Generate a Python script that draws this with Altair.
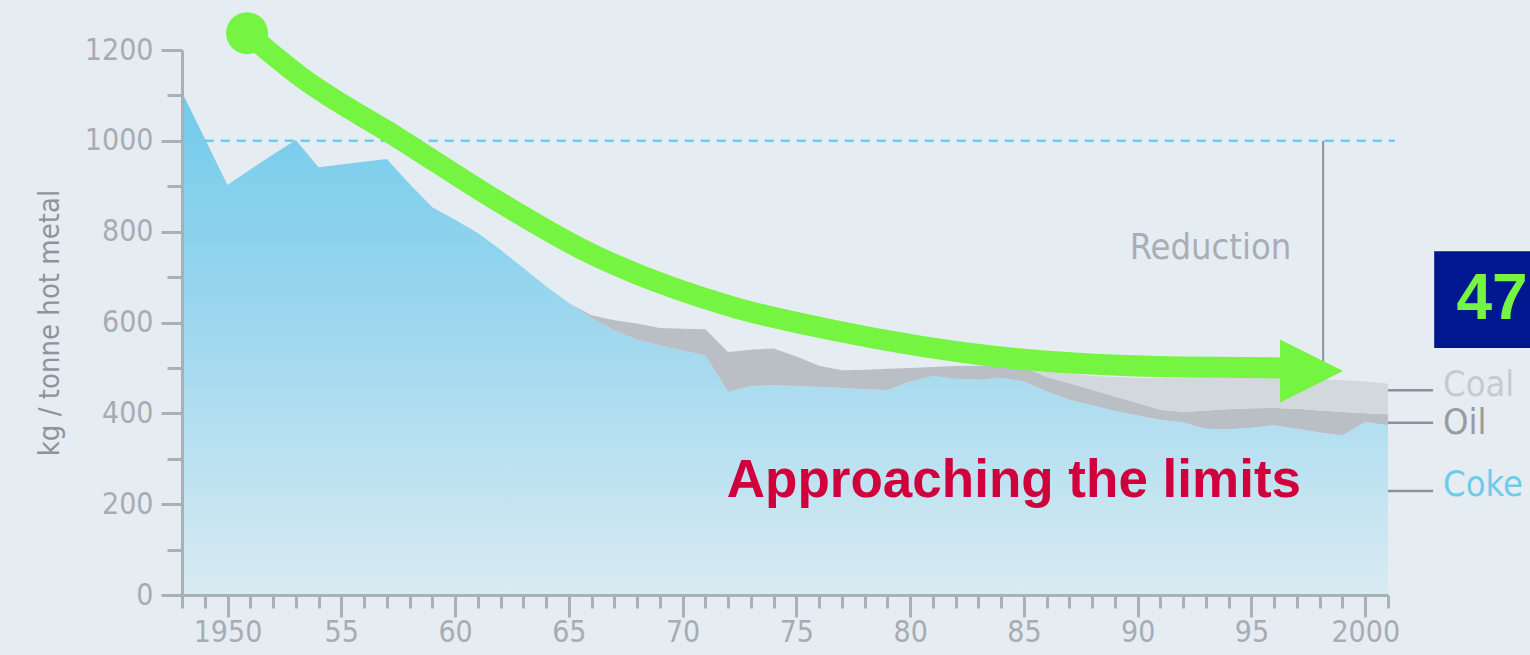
import altair as alt
import pandas as pd

# ---------------- data ----------------
years = list(range(1948, 2002))
coke = [1107, 1005, 903, 937, 970, 1002, 942, 948, 954, 960, 905, 854, 826, 797, 760, 720, 680, 643,
        610, 582, 562, 550, 538, 528, 447, 460, 462, 460, 458, 456, 453, 451, 470, 482, 476, 474, 478, 470,
        448, 430, 418, 405, 395, 386, 380, 366, 365, 368, 374, 366, 358, 352, 381, 374]
oil = [0] * 18 + [6, 23, 36, 38, 48, 57, 88, 80, 81, 65, 47, 39, 43, 47, 30, 20, 28, 31, 28, 32,
                  32, 36, 34, 32, 28, 22, 23, 40, 44, 43, 38, 44, 48, 51, 19, 24]
coal = [0] * 37 + [2, 15, 22, 30, 43, 55, 70, 75, 72, 69, 67, 66, 68, 69, 70, 70, 67]

x_major = [1950, 1955, 1960, 1965, 1970, 1975, 1980, 1985, 1990, 1995, 2000]
x_minor = [y for y in range(1948, 2002) if y not in x_major]
y_major = [0, 200, 400, 600, 800, 1000, 1200]
y_minor = [100, 300, 500, 700, 900, 1100]

# annotation values (data coordinates)
ref_level = [1000]
ref_span = [1949, 2001.3]
reduction_year = [1998.15]
reduction_span = [1000, 473]
reduction_label = ["Reduction"]
reduction_pos = [1993.2, 764]

arrow_years = [1950.86, 1953.19, 1957.58, 1961.98, 1965.63, 1972.22, 1976.62, 1983.96, 1991.87, 1996.26]
arrow_vals = [1237, 1142, 1004, 864, 760, 634, 583, 524, 502, 500]
arrow_head = [1997.64, 493]

series_names = ["Coal", "Oil", "Coke"]
series_text_y = [462, 379, 242]
series_line_y = [451, 379, 229]
series_colors = ["#c5cacf", "#979ca3", "#6fcbeb"]
label_x = 2003.42
connector_x = [2001, 2002.98]

headline = ["Approaching the limits"]
headline_pos = [1984.56, 216]
badge_text = ["47"]
badge_x = [2003.03, 2007.6]
badge_y = [544, 757]
badge_text_pos = [2005.57, 650]

FONT = "DejaVu Sans Condensed, Liberation Sans Narrow, sans-serif"
AXIS_GRAY = "#abb0b6"
LABEL_GRAY = "#a7acb2"

# ---------------- chart ----------------
df = pd.DataFrame({"year": years, "coke": coke, "oil": oil, "coal": coal})

xscale = alt.Scale(domain=[1948, 2001], nice=False, zero=False)
yscale = alt.Scale(domain=[0, 1200], nice=False)

xaxis = alt.Axis(
    values=x_major,
    tickCount=200,
    labelExpr="datum.value % 50 === 0 ? toString(datum.value) : substring(toString(datum.value), 2)",
    tickSize=22,
    labelPadding=0,
    title=None,
    grid=False,
    labelFlush=False,
    labelOverlap=False,
    orient="bottom",
    zindex=1,
)
yaxis = alt.Axis(
    values=y_major,
    tickCount=200,
    format="d",
    tickSize=21,
    labelPadding=8,
    title="kg / tonne hot metal",
    titleFontSize=29,
    titleFont=FONT,
    titleFontWeight="normal",
    titleColor="#8f949a",
    titlePadding=20,
    grid=False,
    labelOverlap=False,
    labelFlush=False,
    orient="left",
    zindex=1,
)
xaxis_minor = alt.Axis(
    values=x_minor, tickCount=200, tickSize=13, labels=False, domain=False,
    title=None, grid=False, orient="bottom", zindex=1,
)
yaxis_minor = alt.Axis(
    values=y_minor, tickCount=200, tickSize=15, labels=False, domain=False,
    title=None, grid=False, orient="left", zindex=1,
)

base = alt.Chart(df).transform_calculate(
    oiltop="datum.coke + datum.oil",
    total="datum.coke + datum.oil + datum.coal",
)

coke_grad = alt.Gradient(
    gradient="linear",
    stops=[
        alt.GradientStop(offset=0, color="#72cbeb"),
        alt.GradientStop(offset=0.45, color="#9cd7ef"),
        alt.GradientStop(offset=1, color="#d8ebf2"),
    ],
    x1=0, x2=0, y1=0, y2=1,
)

coke_area = base.mark_area(color=coke_grad, opacity=1).encode(
    x=alt.X("year:Q", scale=xscale, axis=xaxis),
    y=alt.Y("coke:Q", scale=yscale, axis=yaxis),
    y2=alt.datum(0),
)
oil_area = base.mark_area(color="#babfc5").encode(
    x=alt.X("year:Q"),
    y=alt.Y("oiltop:Q"),
    y2="coke:Q",
)
coal_area = base.mark_area(color="#d3d8dc").encode(
    x=alt.X("year:Q"),
    y=alt.Y("total:Q"),
    y2="oiltop:Q",
)

ref_df = pd.DataFrame({"x": [ref_span[0]], "x2": [ref_span[1]], "y": ref_level})
ref_rule = alt.Chart(ref_df).mark_rule(color="#6fcbeb", strokeWidth=2.5, strokeDash=[9, 7]).encode(
    x="x:Q", x2="x2:Q", y="y:Q"
)

red_df = pd.DataFrame({"x": reduction_year, "y": [reduction_span[0]], "y2": [reduction_span[1]]})
red_rule = alt.Chart(red_df).mark_rule(color="#8c9198", strokeWidth=2).encode(
    x="x:Q", y="y:Q", y2="y2:Q"
)
redlab_df = pd.DataFrame({"x": [reduction_pos[0]], "y": [reduction_pos[1]], "t": reduction_label})
red_text = alt.Chart(redlab_df).mark_text(
    font=FONT, fontSize=36, color="#a9aeb5", align="center", baseline="middle"
).encode(x="x:Q", y="y:Q", text="t:N")

conn_df = pd.DataFrame({"x": [connector_x[0]] * 3, "x2": [connector_x[1]] * 3, "y": series_line_y})
connectors = alt.Chart(conn_df).mark_rule(color="#8d9299", strokeWidth=2.5).encode(
    x="x:Q", x2="x2:Q", y="y:Q"
)
slab_df = pd.DataFrame({"x": [label_x] * 3, "y": series_text_y, "t": series_names, "c": series_colors})
series_labels = alt.Chart(slab_df).mark_text(
    font=FONT, fontSize=36, align="left", baseline="middle"
).encode(
    x="x:Q", y="y:Q", text="t:N",
    color=alt.Color("c:N", scale=None, legend=None),
)

arr_df = pd.DataFrame({"x": arrow_years, "y": arrow_vals})
arrow_line = alt.Chart(arr_df).mark_line(
    color="#76f442", strokeWidth=21, interpolate="monotone", strokeCap="butt"
).encode(x="x:Q", y="y:Q")
start_df = pd.DataFrame({"x": [arrow_years[0]], "y": [arrow_vals[0]]})
arrow_start = alt.Chart(start_df).mark_point(
    shape="circle", filled=True, size=1764, color="#76f442", opacity=1
).encode(x="x:Q", y="y:Q")
head_df = pd.DataFrame({"x": [arrow_head[0]], "y": [arrow_head[1]]})
arrow_tip = alt.Chart(head_df).mark_point(
    shape="M -1 -1 L 1 0 L -1 1 Z", filled=True, size=3969, color="#76f442", opacity=1
).encode(x="x:Q", y="y:Q")

head_txt_df = pd.DataFrame({"x": [headline_pos[0]], "y": [headline_pos[1]], "t": headline})
headline_text = alt.Chart(head_txt_df).mark_text(
    font="Liberation Sans, Arial, sans-serif", fontSize=53, fontWeight="bold",
    color="#d0003c", align="center", baseline="alphabetic"
).encode(x="x:Q", y="y:Q", text="t:N")

badge_df = pd.DataFrame({"x": [badge_x[0]], "x2": [badge_x[1]], "y": [badge_y[0]], "y2": [badge_y[1]]})
badge = alt.Chart(badge_df).mark_rect(color="#00178f", opacity=1).encode(
    x="x:Q", x2="x2:Q", y="y:Q", y2="y2:Q"
)
badge_txt_df = pd.DataFrame({"x": [badge_text_pos[0]], "y": [badge_text_pos[1]], "t": badge_text})
badge_text_mark = alt.Chart(badge_txt_df).mark_text(
    font="Liberation Sans, Arial, sans-serif", fontSize=64, fontWeight="bold",
    color="#76f442", align="center", baseline="middle"
).encode(x="x:Q", y="y:Q", text="t:N")

# invisible layer carrying the minor tick axes
minor_layer = alt.Chart(df).mark_point(opacity=0).encode(
    x=alt.X("year:Q", scale=xscale, axis=xaxis_minor),
    y=alt.Y("coke:Q", scale=yscale, axis=yaxis_minor),
)

main = alt.layer(
    coke_area, oil_area, coal_area, ref_rule, red_rule, red_text,
    connectors, series_labels, headline_text,
    arrow_line, arrow_start, arrow_tip, badge, badge_text_mark,
)

chart = alt.layer(main, minor_layer).resolve_axis(
    x="independent", y="independent"
).properties(
    width=1206,
    height=545,
    padding={"left": 182, "top": 50, "right": 142, "bottom": 60},
    autosize=alt.AutoSizeParams(type="none"),
    background="#e5edf2",
).configure_view(stroke=None).configure_axis(
    domainColor=AXIS_GRAY,
    domainWidth=3,
    tickColor=AXIS_GRAY,
    tickWidth=3,
    labelColor=LABEL_GRAY,
    labelFont=FONT,
    labelFontSize=30,
)

chart.save("out.html", embed_options={"renderer": "svg", "actions": False})
